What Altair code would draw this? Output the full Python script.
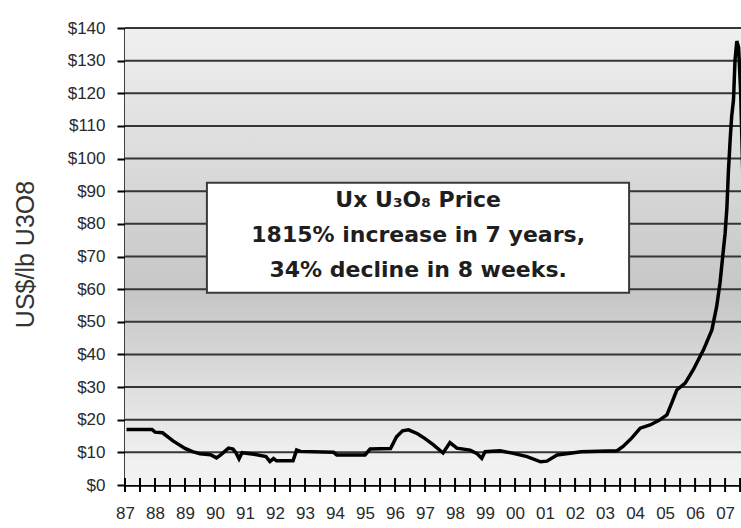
import altair as alt
import pandas as pd

# Ux U3O8 spot price, US$/lb, sampled along the series (decimal years)
years = [
    1987.05, 1987.90, 1988.00, 1988.25, 1988.60, 1989.00, 1989.25, 1989.50,
    1989.85, 1990.05, 1990.20, 1990.45, 1990.60, 1990.70, 1990.80, 1990.90,
    1991.30, 1991.70, 1991.83, 1991.95, 1992.05, 1992.60, 1992.72, 1992.85,
    1993.95, 1994.06, 1995.00, 1995.17, 1995.85, 1996.05, 1996.25, 1996.45,
    1996.75, 1997.00, 1997.28, 1997.60, 1997.83, 1998.06, 1998.50, 1998.72,
    1998.89, 1999.00, 1999.50, 1999.94, 2000.40, 2000.85, 2001.06, 2001.40,
    2001.90, 2002.20, 2003.40, 2003.60, 2003.90, 2004.17, 2004.50, 2004.80,
    2005.06, 2005.22, 2005.39, 2005.67, 2005.94, 2006.28, 2006.56, 2006.72,
    2006.83, 2006.92, 2007.00, 2007.06, 2007.11, 2007.17, 2007.22, 2007.28,
    2007.33, 2007.39, 2007.45, 2007.52, 2007.60,
]
prices = [
    17.0, 17.0, 16.2, 16.0, 13.5, 11.2, 10.2, 9.6,
    9.3, 8.3, 9.3, 11.3, 11.0, 9.8, 8.0, 9.9,
    9.4, 8.7, 7.2, 8.1, 7.4, 7.4, 10.7, 10.3,
    10.0, 9.2, 9.2, 11.0, 11.2, 14.8, 16.6, 16.9,
    15.7, 14.2, 12.3, 9.8, 13.0, 11.3, 10.7, 9.7,
    8.2, 10.2, 10.5, 9.7, 8.7, 7.1, 7.3, 9.2,
    9.8, 10.2, 10.5, 11.8, 14.5, 17.4, 18.4, 19.8,
    21.5, 25.1, 29.1, 31.2, 35.3, 41.4, 47.5, 54.7,
    61.9, 70.0, 77.0, 85.0, 96.0, 106.0, 113.0, 118.0,
    130.0, 136.0, 134.0, 120.0, 92.0,
]

y_ticks = [0, 10, 20, 30, 40, 50, 60, 70, 80, 90, 100, 110, 120, 130, 140]
year_labels = list(range(1987, 2008))
half_year_ticks = [1987 + 0.5 * i for i in range(42)]

note_lines = ["Ux U\u2083O\u2088 Price", "1815% increase in 7 years,", "34% decline in 8 weeks."]

W, H = 616, 457

x_scale = alt.Scale(domain=[1987, 2007.53], nice=False, zero=False)
y_scale = alt.Scale(domain=[0, 140], nice=False)

x_axis = alt.Axis(
    values=year_labels,
    labelExpr="substring(toString(datum.value), 2)",
    ticks=False,
    grid=False,
    domain=True,
    domainColor="#000000",
    domainWidth=2.5,
    labelFont="Liberation Sans",
    labelFontSize=17,
    labelColor="#2a2a2a",
    labelPadding=20,
    labelFlush=False,
    labelOverlap=False,
    title=None,
)
y_axis = alt.Axis(
    values=y_ticks,
    labelExpr="'$' + datum.value",
    grid=False,
    ticks=True,
    tickSize=8,
    tickWidth=2,
    tickColor="#000000",
    domain=True,
    domainColor="#000000",
    domainWidth=2.5,
    labelFont="Liberation Sans",
    labelFontSize=17,
    labelColor="#2a2a2a",
    labelPadding=12,
    title="US$/lb U3O8",
    titleFont="Liberation Sans",
    titleFontSize=25,
    titleFontWeight="normal",
    titleColor="#333333",
    titleAngle=270,
    titleX=-100,
    titleY=226,
    titleAlign="center",
    titleBaseline="middle",
)


def X(field):
    return alt.X(field, type="quantitative", scale=x_scale, axis=x_axis)


def Y(field):
    return alt.Y(field, type="quantitative", scale=y_scale, axis=y_axis)


series = pd.DataFrame({"year": years, "price": prices})
grid_df = pd.DataFrame({"price": y_ticks[1:]})
tick_df = pd.DataFrame({"year": half_year_ticks})
one = pd.DataFrame({"k": [0]})

# grey gradient plot background
background = alt.Chart(one).mark_rect(
    fill=alt.Gradient(
        gradient="linear",
        x1=0, x2=0, y1=0, y2=1,
        stops=[
            alt.GradientStop(offset=0.0, color="#f0f0f0"),
            alt.GradientStop(offset=0.58, color="#c6c6c6"),
            alt.GradientStop(offset=0.95, color="#f1f1f1"),
            alt.GradientStop(offset=1.0, color="#f3f3f3"),
        ],
    )
).encode(x=alt.value(0), x2=alt.value(W), y=alt.value(0), y2=alt.value(H))

grid = alt.Chart(grid_df).mark_rule(color="#353535", strokeWidth=2).encode(y=Y("price"))

# annotation box with the headline figures
box = alt.Chart(one).mark_rect(fill="white", stroke="#3a3a3a", strokeWidth=2).encode(
    x=alt.datum(1989.73, scale=x_scale, axis=x_axis),
    x2=alt.datum(2003.8),
    y=alt.datum(92.6, scale=y_scale, axis=y_axis),
    y2=alt.datum(58.9),
)
note = alt.Chart(one).mark_text(
    font="DejaVu Sans",
    fontWeight="bold",
    fontSize=22,
    color="#1e1e1e",
    align="center",
    baseline="top",
    lineHeight=35,
    dy=7,
).encode(
    x=alt.datum(1996.77, scale=x_scale, axis=x_axis),
    y=alt.datum(92.6, scale=y_scale, axis=y_axis),
    text=alt.value(note_lines),
)

line = alt.Chart(series).mark_line(color="#000000", strokeWidth=3.5, clip=True).encode(
    x=X("year"), y=Y("price")
)

# half-year tick marks straddling the time axis
xticks = alt.Chart(tick_df).mark_rule(color="#000000", strokeWidth=2).encode(
    x=X("year"), y=alt.value(H - 7), y2=alt.value(H + 7)
)

chart = (
    alt.layer(background, grid, box, note, line, xticks)
    .properties(
        width=W,
        height=H,
        autosize=alt.AutoSizeParams(type="none"),
        padding={"left": 125, "top": 28, "right": 0, "bottom": 43},
        background="white",
    )
    .configure_view(stroke=None)
)

chart.save("out.html", embed_options={"renderer": "svg", "actions": False})
